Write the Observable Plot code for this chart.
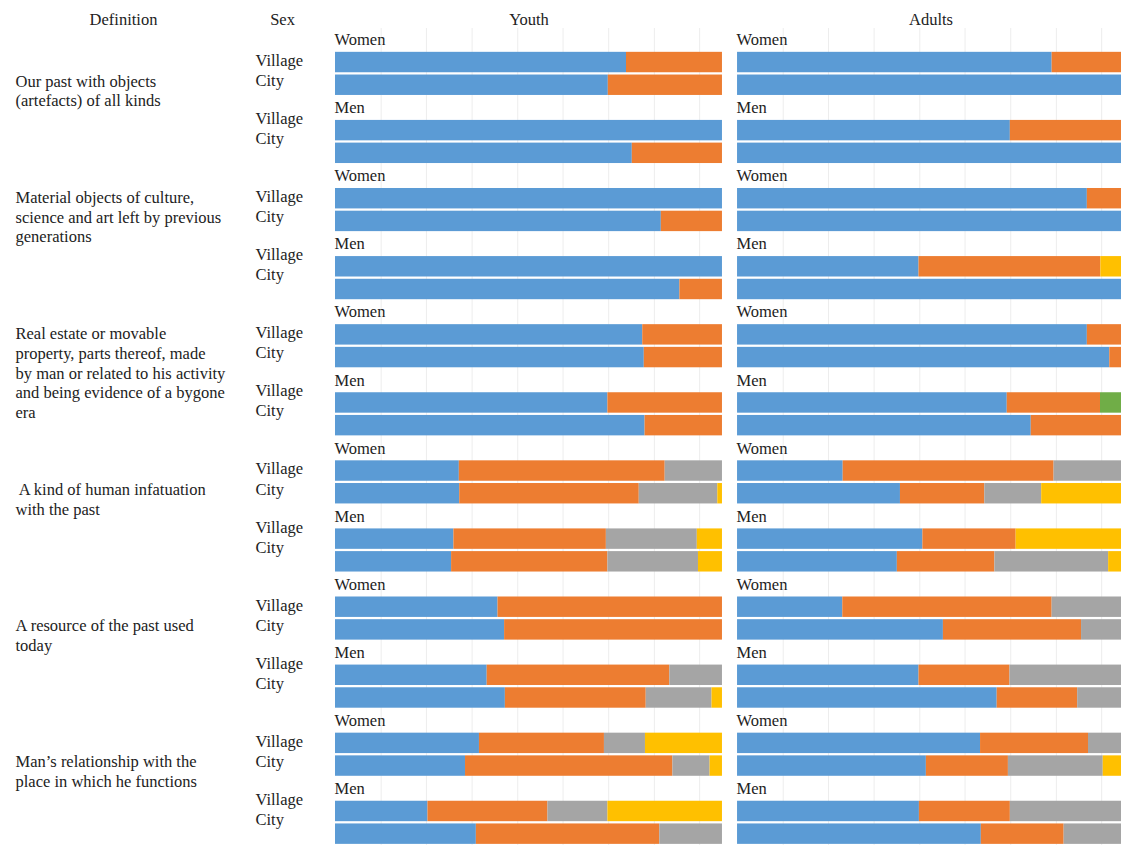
<!DOCTYPE html>
<html><head><meta charset="utf-8">
<script src="https://cdn.jsdelivr.net/npm/d3@7"></script>
<script src="https://cdn.jsdelivr.net/npm/@observablehq/plot@0.6"></script>
<style>html,body{margin:0;padding:0;background:#fff;overflow:hidden}</style>
</head><body><div id="chart"></div>
<script>
const panels = ["Youth", "Adults"];
const definitions = [
  "Our past with objects\n(artefacts) of all kinds",
  "Material objects of culture,\nscience and art left by previous\ngenerations",
  "Real estate or movable\nproperty, parts thereof, made\nby man or related to his activity\nand being evidence of a bygone\nera",
  " A kind of human infatuation\nwith the past",
  "A resource of the past used\ntoday",
  "Man’s relationship with the\nplace in which he functions"
];
const sexes = ["Women", "Men"];
const places = ["Village", "City"];
const headers = ["Definition", "Sex"];
const seriesNames = ["Series 1", "Series 2", "Series 3", "Series 4", "Series 5"];
const seriesColors = ["#5B9BD5", "#ED7D31", "#A5A5A5", "#FFC000", "#70AD47"];
// per definition: [Women Village, Women City, Men Village, Men City], each [s1..s5] in %
const youthValues = [
  [[75.2, 24.8, 0, 0, 0], [70.5, 29.5, 0, 0, 0], [100, 0, 0, 0, 0], [76.7, 23.3, 0, 0, 0]],
  [[100, 0, 0, 0, 0], [84.2, 15.8, 0, 0, 0], [100, 0, 0, 0, 0], [89, 11, 0, 0, 0]],
  [[79.4, 20.6, 0, 0, 0], [79.8, 20.2, 0, 0, 0], [70.4, 29.6, 0, 0, 0], [80, 20, 0, 0, 0]],
  [[32, 53.2, 14.8, 0, 0], [32.1, 46.4, 20.3, 1.2, 0], [30.6, 39.4, 23.5, 6.5, 0], [30, 40.4, 23.4, 6.2, 0]],
  [[42, 58, 0, 0, 0], [43.7, 56.3, 0, 0, 0], [39.2, 47.2, 13.6, 0, 0], [43.9, 36.4, 17, 2.7, 0]],
  [[37.2, 32.3, 10.6, 19.9, 0], [33.6, 53.6, 9.6, 3.2, 0], [23.9, 31, 15.5, 29.6, 0], [36.4, 47.4, 16.2, 0, 0]]
];
const adultsValues = [
  [[81.3, 18.7, 0, 0, 0], [100, 0, 0, 0, 0], [70.5, 29.5, 0, 0, 0], [100, 0, 0, 0, 0]],
  [[90.4, 9.6, 0, 0, 0], [100, 0, 0, 0, 0], [46.9, 47, 0, 6.1, 0], [100, 0, 0, 0, 0]],
  [[90.4, 9.6, 0, 0, 0], [96.2, 3.8, 0, 0, 0], [69.7, 24.1, 0, 0, 6.2], [75.9, 24.1, 0, 0, 0]],
  [[27.3, 54.5, 18.2, 0, 0], [42.1, 21.8, 14.7, 21.4, 0], [47.9, 24.1, 0, 28, 0], [41.3, 25.2, 29.4, 4.1, 0]],
  [[27.2, 54.1, 18.7, 0, 0], [53.2, 35.7, 11.1, 0, 0], [46.9, 23.5, 29.6, 0, 0], [67.1, 20.8, 12.1, 0, 0]],
  [[62.8, 27.9, 9.3, 0, 0], [48.8, 21.2, 24.5, 5.5, 0], [47, 23.5, 29.5, 0, 0], [63, 21.4, 15.6, 0, 0]]
];
const gridTicks = [0.118, 0.235, 0.353, 0.471, 0.588, 0.706, 0.824, 0.941];

// rows: for each definition and sex, a label row then Village and City bars
const rowKeys = [];
definitions.forEach((def, d) => sexes.forEach(sex => {
  rowKeys.push(`${d}|${sex}|label`);
  places.forEach(place => rowKeys.push(`${d}|${sex}|${place}`));
}));

const bars = [];
panels.forEach((panel, pi) => {
  const vals = pi === 0 ? youthValues : adultsValues;
  definitions.forEach((def, d) => sexes.forEach((sex, s) => places.forEach((place, p) => {
    vals[d][s * 2 + p].forEach((v, k) => bars.push({panel, row: `${d}|${sex}|${place}`, series: seriesNames[k], value: v}));
  })));
});

const groupLabels = [];
panels.forEach(panel => definitions.forEach((def, d) => sexes.forEach(sex =>
  groupLabels.push({panel, row: `${d}|${sex}|label`, text: sex}))));

const sexLabels = [];
definitions.forEach((def, d) => sexes.forEach(sex =>
  sexLabels.push({panel: panels[0], sex, row: `${d}|${sex}|Village`, text: places.join("\n")})));

const defLabels = definitions.map((def, d) => ({panel: panels[0], row: `${d}|Women|Village`, text: def, lines: def.split("\n").length}));
const headerLabels = [
  {panel: panels[0], text: headers[0]},
  {panel: panels[0], text: headers[1]}
];

const chart = Plot.plot({
  width: 1121,
  height: 846,
  marginTop: 28,
  marginBottom: 1,
  marginLeft: 335,
  marginRight: -3,
  style: {fontFamily: "'Liberation Serif', 'Times New Roman', serif", fontSize: "16.5px", color: "#222", background: "#fff"},
  fx: {domain: panels, paddingInner: 0.0375, paddingOuter: 0, round: false, label: null, axis: "top", tickSize: 0, tickPadding: 4},
  x: {domain: [0, 1], axis: null},
  y: {domain: rowKeys, axis: null, paddingInner: 0.1, paddingOuter: 0.05, round: false},
  color: {domain: seriesNames, range: seriesColors},
  marks: [
    Plot.ruleX(gridTicks, {stroke: "#ededed", strokeWidth: 1}),
    Plot.barX(bars, Plot.stackX({x: "value", y: "row", fill: "series", fx: "panel", offset: "normalize", order: seriesNames})),
    Plot.text(groupLabels, {fx: "panel", y: "row", text: "text", frameAnchor: "left", textAnchor: "start", dx: -1, fill: "#222"}),
    Plot.text(sexLabels.filter(d => d.sex === sexes[0]), {fx: "panel", y: "row", text: "text", frameAnchor: "left", textAnchor: "start", dx: -80, dy: 7, lineHeight: 1.22, fill: "#222"}),
    Plot.text(sexLabels.filter(d => d.sex === sexes[1]), {fx: "panel", y: "row", text: "text", frameAnchor: "left", textAnchor: "start", dx: -80, dy: -3, lineHeight: 1.22, fill: "#222"}),
    Plot.text(defLabels.filter(d => d.lines <= 2), {fx: "panel", y: "row", text: "text", frameAnchor: "left", textAnchor: "start", lineAnchor: "top", dx: -320, dy: 10, lineHeight: 1.2, fill: "#222"}),
    Plot.text(defLabels.filter(d => d.lines > 2), {fx: "panel", y: "row", text: "text", frameAnchor: "left", textAnchor: "start", lineAnchor: "top", dx: -320, dy: -10, lineHeight: 1.2, fill: "#222"}),
    Plot.text(headerLabels.slice(0, 1), {fx: "panel", text: "text", frameAnchor: "top-left", textAnchor: "middle", lineAnchor: "bottom", dx: -212, dy: -4, fill: "#222"}),
    Plot.text(headerLabels.slice(1), {fx: "panel", text: "text", frameAnchor: "top-left", textAnchor: "middle", lineAnchor: "bottom", dx: -53, dy: -4, fill: "#222"})
  ]
});
document.getElementById("chart").appendChild(chart);
</script>
</body></html>
